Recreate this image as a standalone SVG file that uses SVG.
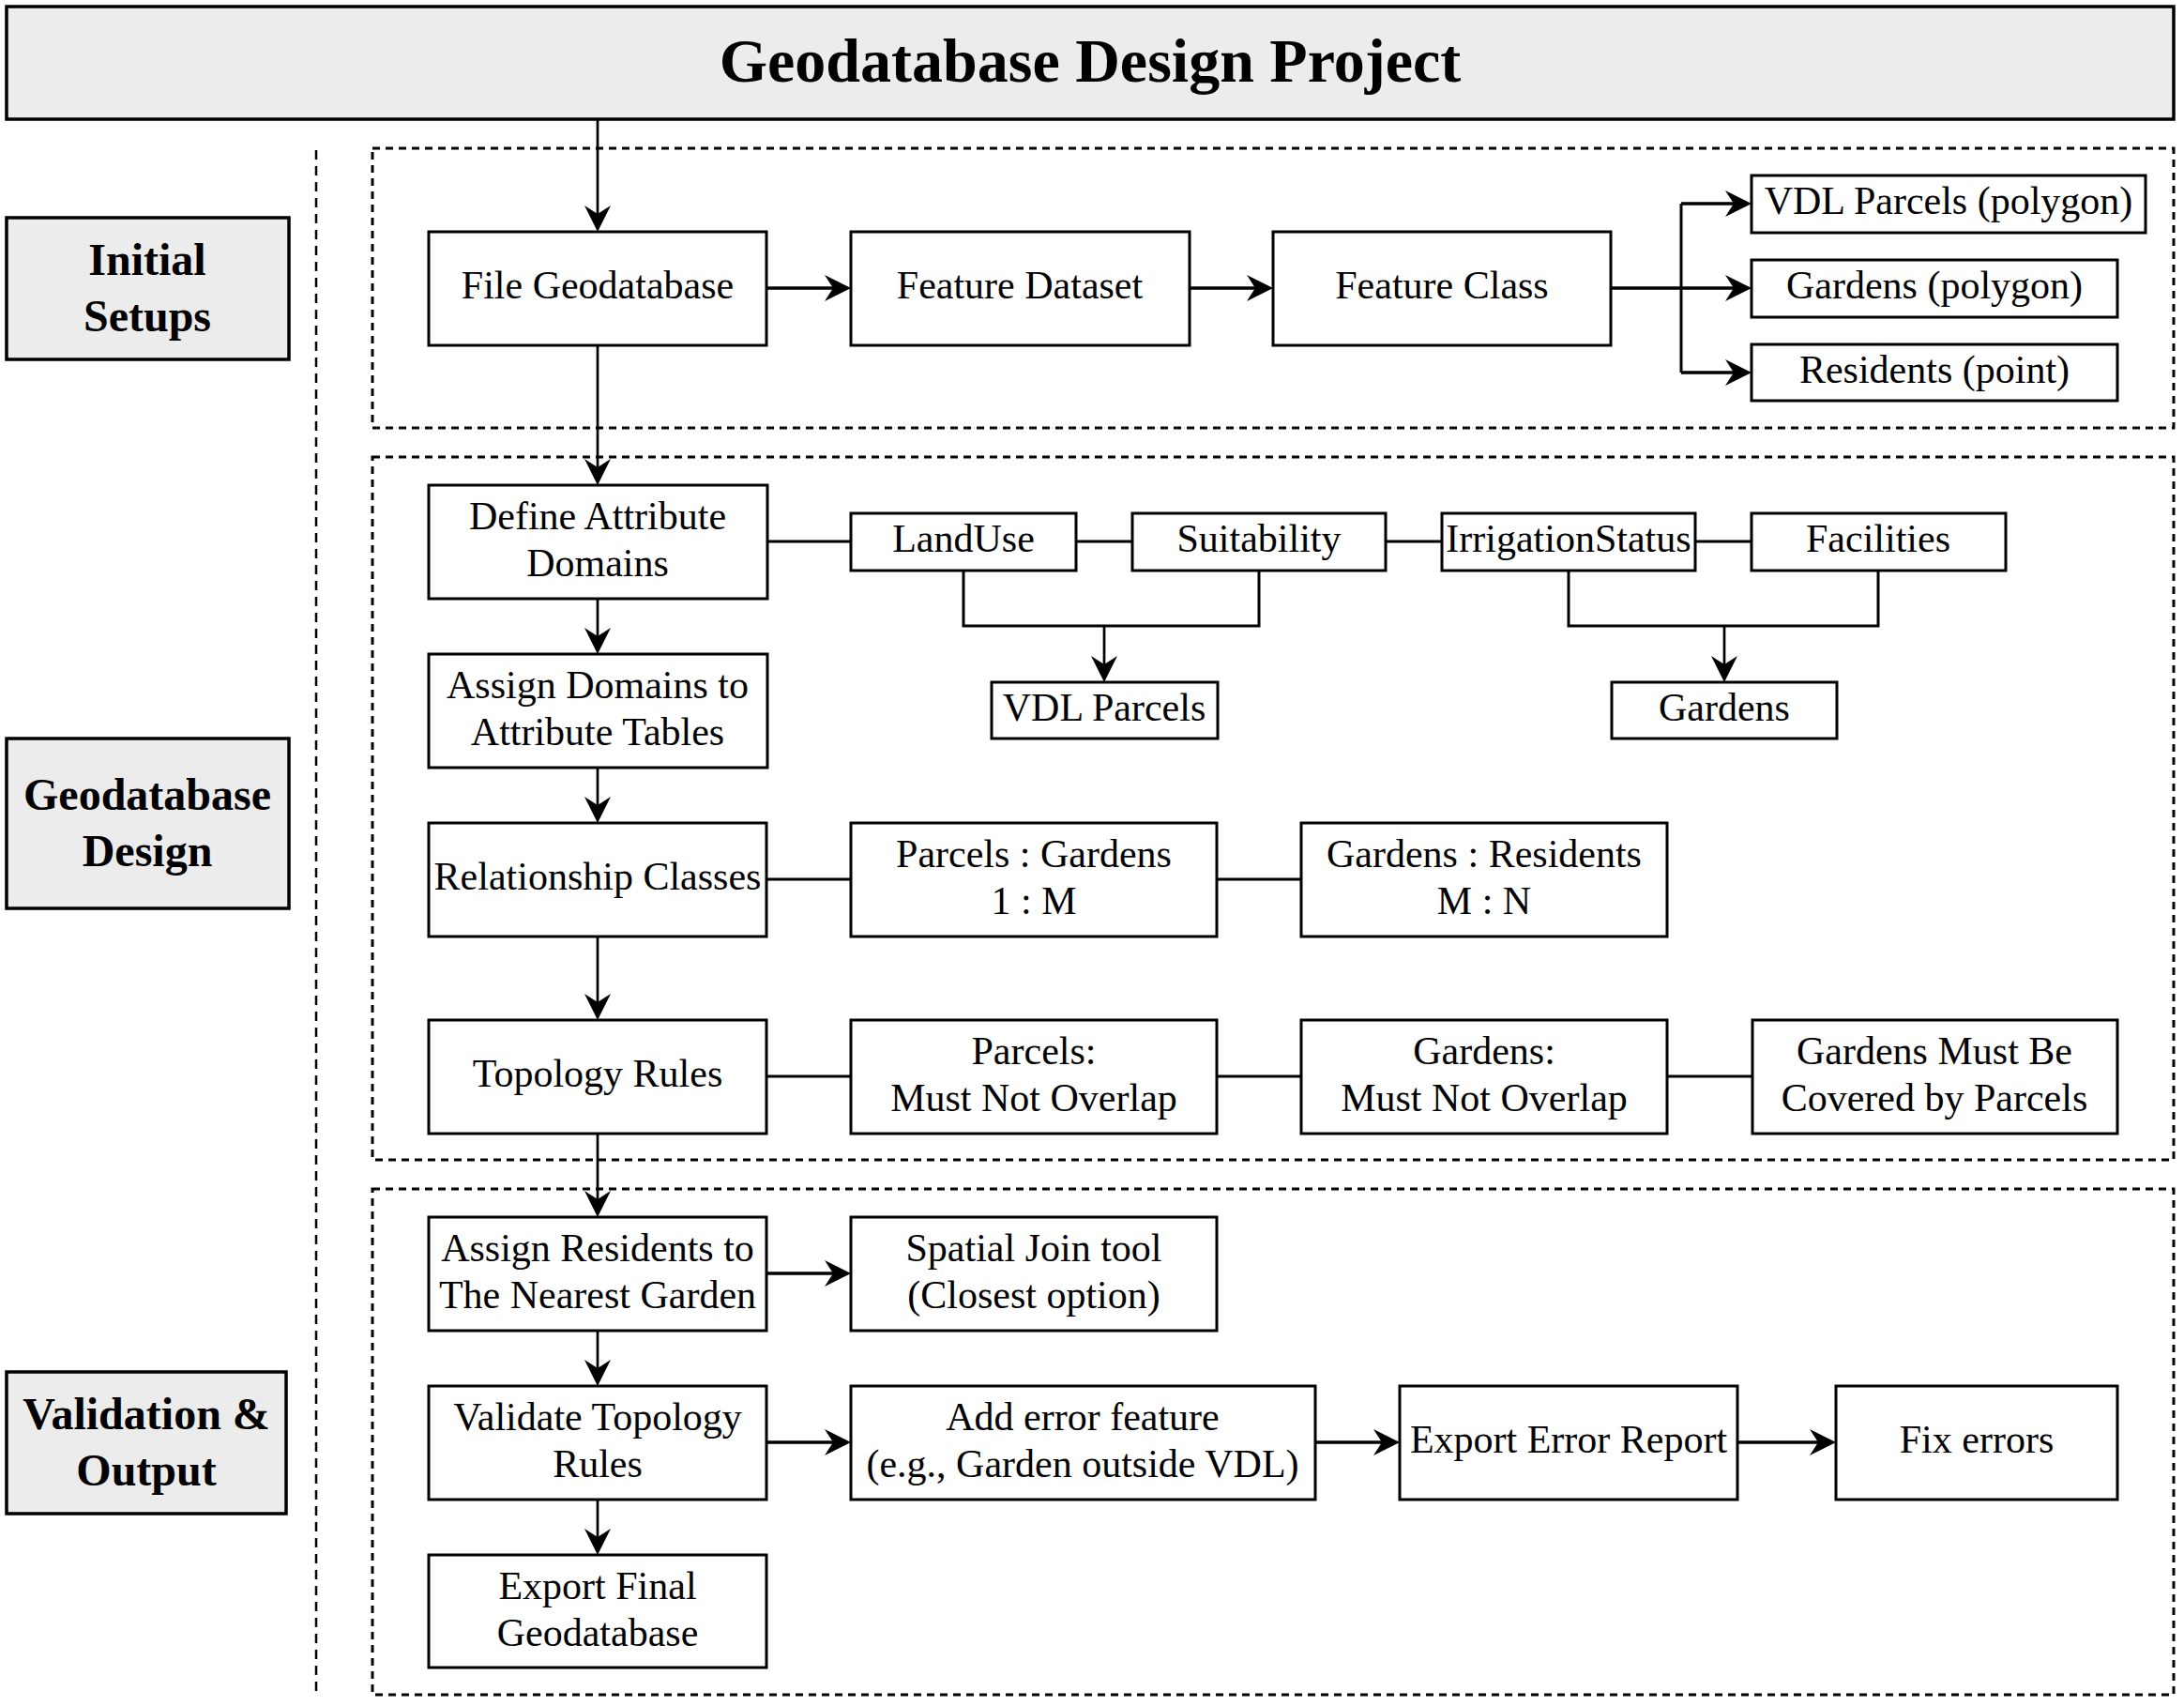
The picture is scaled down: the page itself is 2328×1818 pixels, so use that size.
<svg xmlns="http://www.w3.org/2000/svg" width="2328" height="1818" viewBox="0 0 2328 1818">
<style>
.bg{fill:#ffffff}
.node rect{fill:#ffffff;stroke:#000;stroke-width:3}
.lane rect{fill:#ececec;stroke:#000;stroke-width:3.5}
.t{font-family:"Liberation Serif","Times New Roman",serif;font-size:42px;fill:#000;text-anchor:middle}
.lb{font-family:"Liberation Serif","Times New Roman",serif;font-size:48px;font-weight:bold;fill:#000;text-anchor:middle}
.title{font-family:"Liberation Serif","Times New Roman",serif;font-size:66px;font-weight:bold;fill:#000;text-anchor:middle}
.grp{fill:none;stroke:#000;stroke-width:3;stroke-dasharray:8 6}
.sep{fill:none;stroke:#000;stroke-width:2.5;stroke-dasharray:10 7}
.c{fill:none;stroke:#000;stroke-width:3}
.cv{fill:none;stroke:#000;stroke-width:2.7}
.ch{fill:none;stroke:#000;stroke-width:3.5}
.a{marker-end:url(#arr)}
</style>
<defs>
<marker id="arr" markerUnits="userSpaceOnUse" markerWidth="28" markerHeight="28" viewBox="0 0 28 28" refX="18" refY="14" orient="auto">
<path d="M0,0 L28,14 L0,28 L9,14 Z" fill="#000"/>
</marker>
</defs>
<rect class="bg" x="0" y="0" width="2328" height="1818"/>

<!-- group containers -->
<g id="groups">
<line class="sep" x1="337" y1="160" x2="337" y2="1806"/>
<rect class="grp" x="397" y="158" width="1920" height="298"/>
<rect class="grp" x="397" y="487" width="1920" height="749"/>
<rect class="grp" x="397" y="1267" width="1920" height="539"/>
</g>

<!-- title -->
<g id="title" class="lane">
<rect x="7" y="7" width="2310" height="120"/>
<text class="title" x="1162" y="87">Geodatabase Design Project</text>
</g>

<!-- lane labels -->
<g id="lane-initial" class="lane">
<rect x="7" y="232" width="301" height="151"/>
<text class="lb" x="157" y="293">Initial</text>
<text class="lb" x="157" y="353">Setups</text>
</g>
<g id="lane-design" class="lane">
<rect x="7" y="787" width="301" height="181"/>
<text class="lb" x="157" y="863">Geodatabase</text>
<text class="lb" x="157" y="923">Design</text>
</g>
<g id="lane-validation" class="lane">
<rect x="7" y="1462" width="298" height="151"/>
<text class="lb" x="156" y="1523">Validation &amp;</text>
<text class="lb" x="156" y="1583">Output</text>
</g>

<!-- connectors -->
<g id="connectors">
<path class="cv a" d="M637,127 V237"/>
<path class="cv a" d="M637,368 V507"/>
<path class="cv a" d="M637,638 V687"/>
<path class="cv a" d="M637,818 V867"/>
<path class="cv a" d="M637,998 V1077"/>
<path class="cv a" d="M637,1208 V1287"/>
<path class="cv a" d="M637,1418 V1467"/>
<path class="cv a" d="M637,1598 V1647"/>
<path class="ch a" d="M817,307 H897"/>
<path class="ch a" d="M1268,307 H1347"/>
<path class="ch a" d="M1717,307 H1857"/>
<path class="c" d="M1792,217 V397"/>
<path class="ch a" d="M1792,217 H1857"/>
<path class="ch a" d="M1792,397 H1857"/>
<path class="c" d="M818,577 H907"/>
<path class="c" d="M1147,577 H1207"/>
<path class="c" d="M1477,577 H1537"/>
<path class="c" d="M1807,577 H1867"/>
<path class="c" d="M1027,608 V667 H1342 V608"/>
<path class="cv a" d="M1177,667 V717"/>
<path class="c" d="M1672,608 V667 H2002 V608"/>
<path class="cv a" d="M1838,667 V717"/>
<path class="c" d="M817,937 H907"/>
<path class="c" d="M1297,937 H1387"/>
<path class="c" d="M817,1147 H907"/>
<path class="c" d="M1297,1147 H1387"/>
<path class="c" d="M1777,1147 H1868"/>
<path class="ch a" d="M817,1357 H897"/>
<path class="ch a" d="M817,1537 H897"/>
<path class="ch a" d="M1402,1537 H1482"/>
<path class="ch a" d="M1852,1537 H1947"/>
</g>

<g id="file-geodatabase" class="node">
<rect x="457" y="247" width="360" height="121"/>
<text class="t" x="637" y="318">File Geodatabase</text>
</g>
<g id="feature-dataset" class="node">
<rect x="907" y="247" width="361" height="121"/>
<text class="t" x="1087" y="318">Feature Dataset</text>
</g>
<g id="feature-class" class="node">
<rect x="1357" y="247" width="360" height="121"/>
<text class="t" x="1537" y="318">Feature Class</text>
</g>
<g id="vdl-parcels-polygon" class="node">
<rect x="1867" y="187" width="420" height="61"/>
<text class="t" x="2077" y="228">VDL Parcels (polygon)</text>
</g>
<g id="gardens-polygon" class="node">
<rect x="1867" y="277" width="390" height="61"/>
<text class="t" x="2062" y="318">Gardens (polygon)</text>
</g>
<g id="residents-point" class="node">
<rect x="1867" y="367" width="390" height="60"/>
<text class="t" x="2062" y="408">Residents (point)</text>
</g>

<g id="define-domains" class="node">
<rect x="457" y="517" width="361" height="121"/>
<text class="t" x="637" y="564">Define Attribute</text>
<text class="t" x="637" y="614">Domains</text>
</g>
<g id="landuse" class="node">
<rect x="907" y="547" width="240" height="61"/>
<text class="t" x="1027" y="588">LandUse</text>
</g>
<g id="suitability" class="node">
<rect x="1207" y="547" width="270" height="61"/>
<text class="t" x="1342" y="588">Suitability</text>
</g>
<g id="irrigationstatus" class="node">
<rect x="1537" y="547" width="270" height="61"/>
<text class="t" x="1672" y="588">IrrigationStatus</text>
</g>
<g id="facilities" class="node">
<rect x="1867" y="547" width="271" height="61"/>
<text class="t" x="2002" y="588">Facilities</text>
</g>
<g id="vdl-parcels" class="node">
<rect x="1057" y="727" width="241" height="60"/>
<text class="t" x="1177" y="768">VDL Parcels</text>
</g>
<g id="gardens" class="node">
<rect x="1718" y="727" width="240" height="60"/>
<text class="t" x="1838" y="768">Gardens</text>
</g>
<g id="assign-domains" class="node">
<rect x="457" y="697" width="361" height="121"/>
<text class="t" x="637" y="744">Assign Domains to</text>
<text class="t" x="637" y="794">Attribute Tables</text>
</g>
<g id="relationship-classes" class="node">
<rect x="457" y="877" width="360" height="121"/>
<text class="t" x="637" y="948">Relationship Classes</text>
</g>
<g id="parcels-gardens" class="node">
<rect x="907" y="877" width="390" height="121"/>
<text class="t" x="1102" y="924">Parcels : Gardens</text>
<text class="t" x="1102" y="974">1 : M</text>
</g>
<g id="gardens-residents" class="node">
<rect x="1387" y="877" width="390" height="121"/>
<text class="t" x="1582" y="924">Gardens : Residents</text>
<text class="t" x="1582" y="974">M : N</text>
</g>
<g id="topology-rules" class="node">
<rect x="457" y="1087" width="360" height="121"/>
<text class="t" x="637" y="1158">Topology Rules</text>
</g>
<g id="parcels-overlap" class="node">
<rect x="907" y="1087" width="390" height="121"/>
<text class="t" x="1102" y="1134">Parcels:</text>
<text class="t" x="1102" y="1184">Must Not Overlap</text>
</g>
<g id="gardens-overlap" class="node">
<rect x="1387" y="1087" width="390" height="121"/>
<text class="t" x="1582" y="1134">Gardens:</text>
<text class="t" x="1582" y="1184">Must Not Overlap</text>
</g>
<g id="gardens-covered" class="node">
<rect x="1868" y="1087" width="389" height="121"/>
<text class="t" x="2062" y="1134">Gardens Must Be</text>
<text class="t" x="2062" y="1184">Covered by Parcels</text>
</g>

<g id="assign-residents" class="node">
<rect x="457" y="1297" width="360" height="121"/>
<text class="t" x="637" y="1344">Assign Residents to</text>
<text class="t" x="637" y="1394">The Nearest Garden</text>
</g>
<g id="spatial-join" class="node">
<rect x="907" y="1297" width="390" height="121"/>
<text class="t" x="1102" y="1344">Spatial Join tool</text>
<text class="t" x="1102" y="1394">(Closest option)</text>
</g>
<g id="validate-topology" class="node">
<rect x="457" y="1477" width="360" height="121"/>
<text class="t" x="637" y="1524">Validate Topology</text>
<text class="t" x="637" y="1574">Rules</text>
</g>
<g id="add-error-feature" class="node">
<rect x="907" y="1477" width="495" height="121"/>
<text class="t" x="1154" y="1524">Add error feature</text>
<text class="t" x="1154" y="1574">(e.g., Garden outside VDL)</text>
</g>
<g id="export-error-report" class="node">
<rect x="1492" y="1477" width="360" height="121"/>
<text class="t" x="1672" y="1548">Export Error Report</text>
</g>
<g id="fix-errors" class="node">
<rect x="1957" y="1477" width="300" height="121"/>
<text class="t" x="2107" y="1548">Fix errors</text>
</g>
<g id="export-final" class="node">
<rect x="457" y="1657" width="360" height="120"/>
<text class="t" x="637" y="1704">Export Final</text>
<text class="t" x="637" y="1754">Geodatabase</text>
</g>
</svg>
